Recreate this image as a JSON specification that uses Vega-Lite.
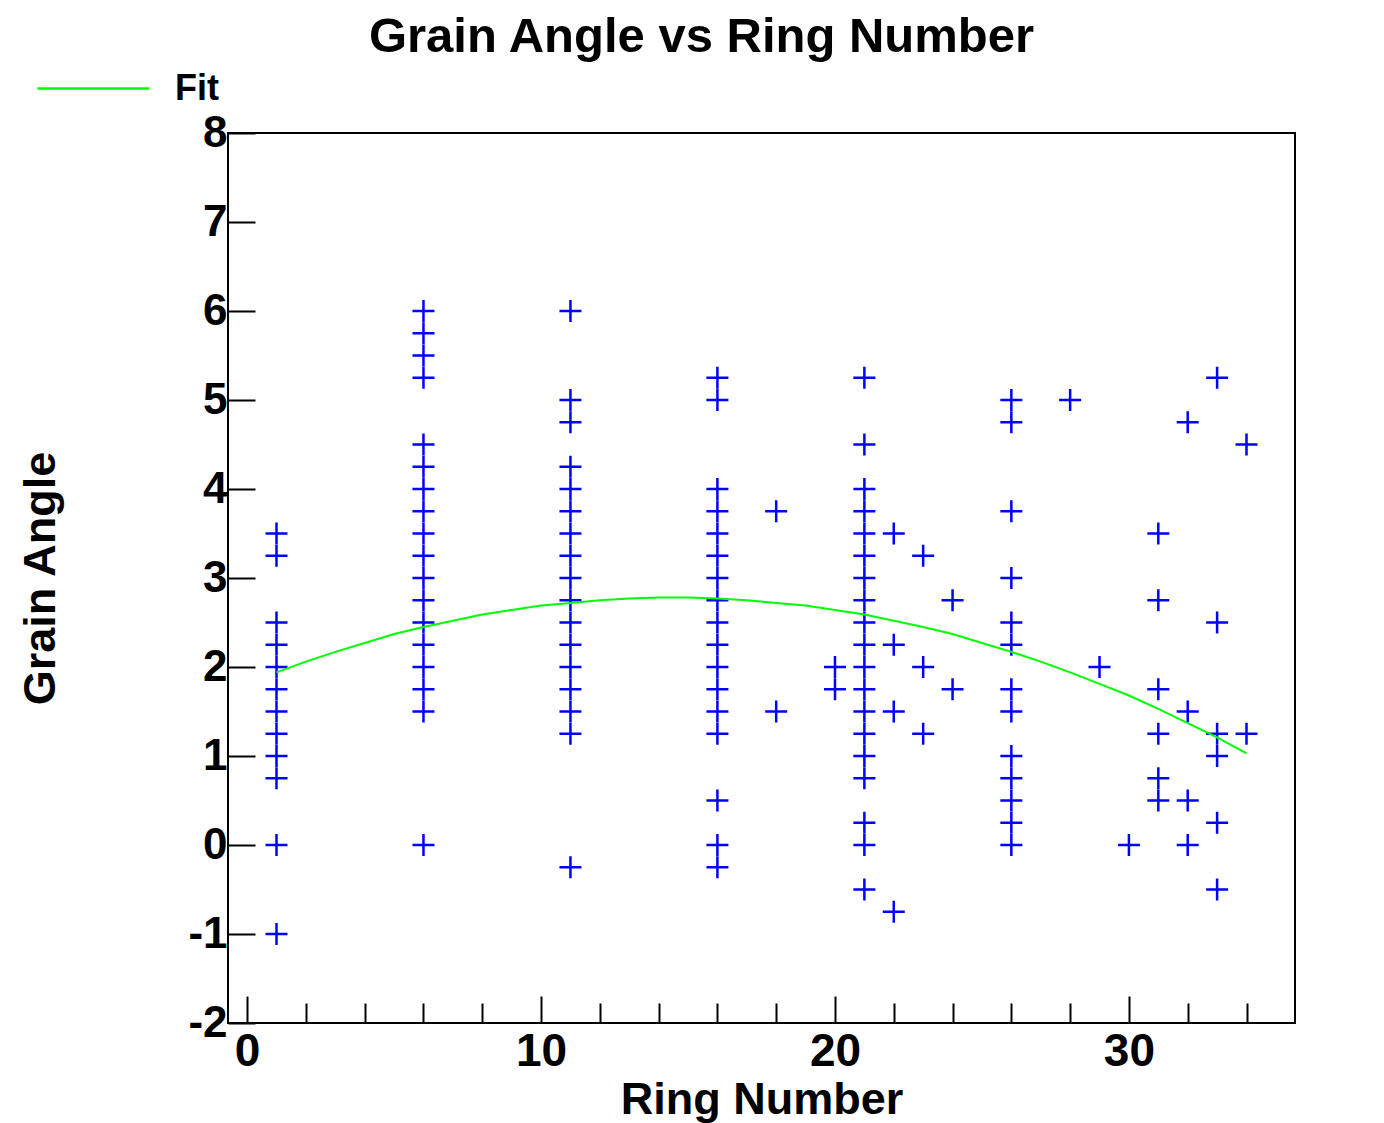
{
  "$schema": "https://vega.github.io/schema/vega-lite/v6.json",
  "width": 1067,
  "height": 890,
  "autosize": {"type": "none"},
  "padding": {"left": 228, "top": 133, "right": 89, "bottom": 100},
  "background": "white",
  "title": {
    "text": "Grain Angle vs Ring Number",
    "fontSize": 49,
    "font": "Liberation Sans",
    "fontWeight": "bold",
    "color": "black",
    "anchor": "middle",
    "frame": "group",
    "baseline": "alphabetic",
    "offset": -70,
    "dx": -60
  },
  "config": {
    "view": {"stroke": "black", "strokeWidth": 2},
    "font": "Liberation Sans",
    "axis": {
      "grid": false,
      "domain": false,
      "tickColor": "black",
      "tickWidth": 2,
      "labelFont": "Liberation Sans",
      "labelFontWeight": "bold",
      "labelFontSize": 45,
      "labelColor": "black",
      "titleFont": "Liberation Sans",
      "titleFontWeight": "bold",
      "titleFontSize": 45,
      "titleColor": "black"
    }
  },
  "datasets": {
    "pts": [
      {"ring": 1, "angle": 3.5}, {"ring": 1, "angle": 3.25}, {"ring": 1, "angle": 2.5}, {"ring": 1, "angle": 2.25}, {"ring": 1, "angle": 2}, {"ring": 1, "angle": 1.75}, {"ring": 1, "angle": 1.5}, {"ring": 1, "angle": 1.25}, {"ring": 1, "angle": 1}, {"ring": 1, "angle": 0.75}, {"ring": 1, "angle": 0}, {"ring": 1, "angle": -1},
      {"ring": 6, "angle": 6}, {"ring": 6, "angle": 5.75}, {"ring": 6, "angle": 5.5}, {"ring": 6, "angle": 5.25}, {"ring": 6, "angle": 4.5}, {"ring": 6, "angle": 4.25}, {"ring": 6, "angle": 4}, {"ring": 6, "angle": 3.75}, {"ring": 6, "angle": 3.5}, {"ring": 6, "angle": 3.25}, {"ring": 6, "angle": 3}, {"ring": 6, "angle": 2.75}, {"ring": 6, "angle": 2.5}, {"ring": 6, "angle": 2.25}, {"ring": 6, "angle": 2}, {"ring": 6, "angle": 1.75}, {"ring": 6, "angle": 1.5}, {"ring": 6, "angle": 0},
      {"ring": 11, "angle": 6}, {"ring": 11, "angle": 5}, {"ring": 11, "angle": 4.75}, {"ring": 11, "angle": 4.25}, {"ring": 11, "angle": 4}, {"ring": 11, "angle": 3.75}, {"ring": 11, "angle": 3.5}, {"ring": 11, "angle": 3.25}, {"ring": 11, "angle": 3}, {"ring": 11, "angle": 2.75}, {"ring": 11, "angle": 2.5}, {"ring": 11, "angle": 2.25}, {"ring": 11, "angle": 2}, {"ring": 11, "angle": 1.75}, {"ring": 11, "angle": 1.5}, {"ring": 11, "angle": 1.25}, {"ring": 11, "angle": -0.25},
      {"ring": 16, "angle": 5.25}, {"ring": 16, "angle": 5}, {"ring": 16, "angle": 4}, {"ring": 16, "angle": 3.75}, {"ring": 16, "angle": 3.5}, {"ring": 16, "angle": 3.25}, {"ring": 16, "angle": 3}, {"ring": 16, "angle": 2.75}, {"ring": 16, "angle": 2.5}, {"ring": 16, "angle": 2.25}, {"ring": 16, "angle": 2}, {"ring": 16, "angle": 1.75}, {"ring": 16, "angle": 1.5}, {"ring": 16, "angle": 1.25}, {"ring": 16, "angle": 0.5}, {"ring": 16, "angle": 0}, {"ring": 16, "angle": -0.25},
      {"ring": 18, "angle": 3.75}, {"ring": 18, "angle": 1.5},
      {"ring": 20, "angle": 2}, {"ring": 20, "angle": 1.75},
      {"ring": 21, "angle": 5.25}, {"ring": 21, "angle": 4.5}, {"ring": 21, "angle": 4}, {"ring": 21, "angle": 3.75}, {"ring": 21, "angle": 3.5}, {"ring": 21, "angle": 3.25}, {"ring": 21, "angle": 3}, {"ring": 21, "angle": 2.75}, {"ring": 21, "angle": 2.5}, {"ring": 21, "angle": 2.25}, {"ring": 21, "angle": 2}, {"ring": 21, "angle": 1.75}, {"ring": 21, "angle": 1.5}, {"ring": 21, "angle": 1.25}, {"ring": 21, "angle": 1}, {"ring": 21, "angle": 0.75}, {"ring": 21, "angle": 0.25}, {"ring": 21, "angle": 0}, {"ring": 21, "angle": -0.5},
      {"ring": 22, "angle": 3.5}, {"ring": 22, "angle": 2.25}, {"ring": 22, "angle": 1.5}, {"ring": 22, "angle": -0.75},
      {"ring": 23, "angle": 3.25}, {"ring": 23, "angle": 2}, {"ring": 23, "angle": 1.25},
      {"ring": 24, "angle": 2.75}, {"ring": 24, "angle": 1.75},
      {"ring": 26, "angle": 5}, {"ring": 26, "angle": 4.75}, {"ring": 26, "angle": 3.75}, {"ring": 26, "angle": 3}, {"ring": 26, "angle": 2.5}, {"ring": 26, "angle": 2.25}, {"ring": 26, "angle": 1.75}, {"ring": 26, "angle": 1.5}, {"ring": 26, "angle": 1}, {"ring": 26, "angle": 0.75}, {"ring": 26, "angle": 0.5}, {"ring": 26, "angle": 0.25}, {"ring": 26, "angle": 0},
      {"ring": 28, "angle": 5},
      {"ring": 29, "angle": 2},
      {"ring": 30, "angle": 0},
      {"ring": 31, "angle": 3.5}, {"ring": 31, "angle": 2.75}, {"ring": 31, "angle": 1.75}, {"ring": 31, "angle": 1.25}, {"ring": 31, "angle": 0.75}, {"ring": 31, "angle": 0.5},
      {"ring": 32, "angle": 4.75}, {"ring": 32, "angle": 1.5}, {"ring": 32, "angle": 0.5}, {"ring": 32, "angle": 0},
      {"ring": 33, "angle": 5.25}, {"ring": 33, "angle": 2.5}, {"ring": 33, "angle": 1.25}, {"ring": 33, "angle": 1}, {"ring": 33, "angle": 0.25}, {"ring": 33, "angle": -0.5},
      {"ring": 34, "angle": 4.5}, {"ring": 34, "angle": 1.25}
    ],
    "fit": [
      {"ring": 1, "angle": 1.94, "series": "Fit"}, {"ring": 2, "angle": 2.06, "series": "Fit"}, {"ring": 3, "angle": 2.17, "series": "Fit"}, {"ring": 4, "angle": 2.27, "series": "Fit"}, {"ring": 5, "angle": 2.37, "series": "Fit"}, {"ring": 6, "angle": 2.45, "series": "Fit"}, {"ring": 7, "angle": 2.52, "series": "Fit"}, {"ring": 8, "angle": 2.59, "series": "Fit"}, {"ring": 9, "angle": 2.64, "series": "Fit"}, {"ring": 10, "angle": 2.69, "series": "Fit"}, {"ring": 11, "angle": 2.72, "series": "Fit"}, {"ring": 12, "angle": 2.75, "series": "Fit"}, {"ring": 13, "angle": 2.77, "series": "Fit"}, {"ring": 14, "angle": 2.78, "series": "Fit"}, {"ring": 15, "angle": 2.78, "series": "Fit"}, {"ring": 16, "angle": 2.77, "series": "Fit"}, {"ring": 17, "angle": 2.75, "series": "Fit"}, {"ring": 18, "angle": 2.72, "series": "Fit"}, {"ring": 19, "angle": 2.69, "series": "Fit"}, {"ring": 20, "angle": 2.64, "series": "Fit"}, {"ring": 21, "angle": 2.59, "series": "Fit"}, {"ring": 22, "angle": 2.52, "series": "Fit"}, {"ring": 23, "angle": 2.45, "series": "Fit"}, {"ring": 24, "angle": 2.37, "series": "Fit"}, {"ring": 25, "angle": 2.27, "series": "Fit"}, {"ring": 26, "angle": 2.17, "series": "Fit"}, {"ring": 27, "angle": 2.06, "series": "Fit"}, {"ring": 28, "angle": 1.94, "series": "Fit"}, {"ring": 29, "angle": 1.81, "series": "Fit"}, {"ring": 30, "angle": 1.68, "series": "Fit"}, {"ring": 31, "angle": 1.53, "series": "Fit"}, {"ring": 32, "angle": 1.37, "series": "Fit"}, {"ring": 33, "angle": 1.21, "series": "Fit"}, {"ring": 34, "angle": 1.03, "series": "Fit"}
    ]
  },
  "resolve": {"axis": {"x": "independent"}},
  "layer": [
    {
      "data": {"name": "pts"},
      "mark": {"type": "point", "shape": "M-1,0L1,0M0,-1L0,1", "filled": false, "size": 484, "stroke": "#0000ff", "strokeWidth": 2.5, "opacity": 1},
      "encoding": {
        "x": {
          "field": "ring", "type": "quantitative",
          "scale": {"domain": [-0.65, 35.65], "nice": false, "zero": false},
          "axis": {
            "orient": "bottom",
            "title": null,
            "values": [2, 4, 6, 8, 12, 14, 16, 18, 22, 24, 26, 28, 32, 34],
            "labels": false,
            "tickSize": -20
          }
        },
        "y": {
          "field": "angle", "type": "quantitative",
          "scale": {"domain": [-2, 8], "nice": false, "zero": false},
          "axis": {
            "title": "Grain Angle",
            "values": [-2, -1, 0, 1, 2, 3, 4, 5, 6, 7, 8],
            "labelExpr": "datum.value < 0 ? '-' + abs(datum.value) : '' + datum.value",
            "labelFontSize": 44,
            "tickSize": -27,
            "labelPadding": 28,
            "labelBaseline": "middle",
            "titleX": -174,
            "titleY": 445,
            "titleBaseline": "alphabetic",
            "titleAngle": -90
          }
        }
      }
    },
    {
      "data": {"name": "fit"},
      "mark": {"type": "line", "strokeWidth": 2},
      "encoding": {
        "x": {
          "field": "ring", "type": "quantitative",
          "axis": {
            "orient": "bottom",
            "title": "Ring Number",
            "values": [0, 10, 20, 30],
            "format": "d",
            "labelFontSize": 46,
            "tickSize": -27,
            "labelPadding": 33,
            "titleBaseline": "alphabetic",
            "titleY": 90
          }
        },
        "y": {"field": "angle", "type": "quantitative"},
        "color": {
          "field": "series", "type": "nominal",
          "scale": {"range": ["#00ff00"]},
          "legend": {
            "title": null,
            "orient": "none",
            "legendX": -192,
            "legendY": -102,
            "padding": 0,
            "symbolType": "stroke",
            "symbolSize": 12544,
            "symbolStrokeWidth": 2.5,
            "labelOffset": 24,
            "labelFontSize": 36,
            "labelFont": "Liberation Sans",
            "labelFontWeight": "bold",
            "labelColor": "black"
          }
        }
      }
    }
  ]
}
